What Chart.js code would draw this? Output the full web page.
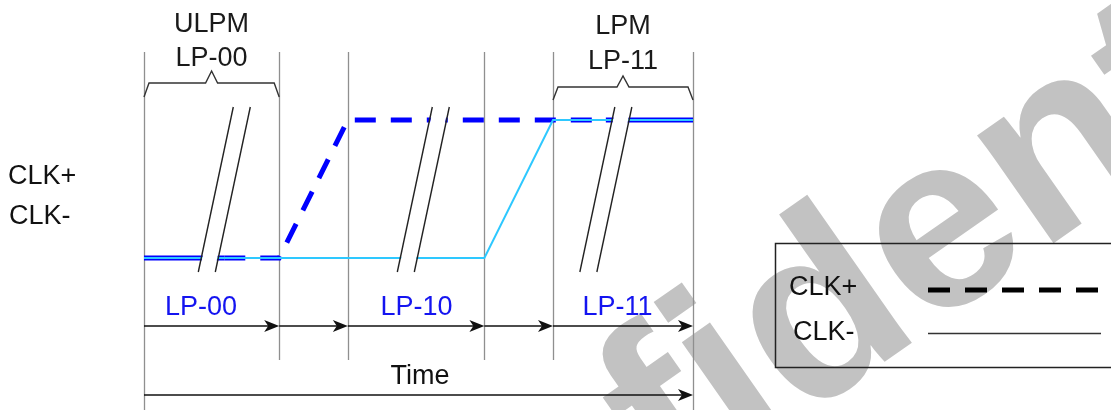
<!DOCTYPE html>
<html><head><meta charset="utf-8">
<script src="https://cdn.jsdelivr.net/npm/chart.js@4/dist/chart.umd.min.js"></script>
<style>html,body{margin:0;padding:0;background:#fff;} canvas{display:block;}</style>
</head><body>
<canvas id="c" width="1111" height="410"></canvas>
<script>
// ---- data (time in arbitrary units, level 0 = low, 1 = high) ----
const phaseBoundaries = [0, 1.97, 2.97, 4.96, 5.96, 8];
const breakTimes = [1.17, 4.07, 6.73];
const clkPlusTimes = [0, 1.17, 1.97, 2.97, 6.73, 8];
const clkPlusLevels = [0, 0, 0, 1, 1, 1];
const clkMinusTimes = [0, 4.96, 5.96, 8];
const clkMinusLevels = [0, 0, 1, 1];
const stateLabels = ['LP-00', 'LP-10', 'LP-11'];
const stateLabelTimes = [0.83, 3.97, 6.9];
const modeLabels = [['ULPM', 'LP-00'], ['LPM', 'LP-11']];
const modePhases = [0, 4];
const seriesNames = ['CLK+', 'CLK-'];
const axisTitle = 'Time';
const watermarkText = 'Confidential';

const FONT = '27px "Liberation Sans", Arial, sans-serif';
const BLUE = '#0000ff';
const CYAN = '#2ec8ff';

function pts(xs, ys) { return xs.map((x, i) => ({ x: x, y: ys[i] })); }

const bgPlugin = {
  id: 'bg',
  beforeDraw(chart) {
    const ctx = chart.ctx;
    ctx.save();
    ctx.fillStyle = '#fff';
    ctx.fillRect(0, 0, chart.width, chart.height);
    // watermark
    ctx.translate(277, 787);
    ctx.rotate(-35 * Math.PI / 180);
    ctx.font = 'bold 250px "Liberation Sans", Arial, sans-serif';
    ctx.fillStyle = '#c2c2c2';
    ctx.textBaseline = 'alphabetic';
    ctx.fillText(watermarkText, 0, 0);
    ctx.restore();
  },
  beforeDatasetsDraw(chart) {
    const ctx = chart.ctx, xs = chart.scales.x;
    ctx.save();
    ctx.strokeStyle = '#8f8f8f';
    ctx.lineWidth = 1.3;
    phaseBoundaries.forEach((t, i) => {
      const x = Math.round(xs.getPixelForValue(t)) + 0.5;
      const bottom = (i === 0 || i === phaseBoundaries.length - 1) ? 410 : 360;
      ctx.beginPath(); ctx.moveTo(x, 52); ctx.lineTo(x, bottom); ctx.stroke();
    });
    ctx.restore();
  },
  afterDatasetsDraw(chart) {
    const ctx = chart.ctx, xs = chart.scales.x;
    const X = t => xs.getPixelForValue(t);
    ctx.save();
    // break marks
    const yTop = 107, yBot = 272, yMid = (yTop + yBot) / 2, slope = 35 / 165, off = 8.5;
    breakTimes.forEach(t => {
      const xc = X(t);
      const xAt = (y, d) => xc + d + (yMid - y) * slope;
      ctx.fillStyle = '#fff';
      ctx.beginPath();
      ctx.moveTo(xAt(yTop, -off + 1), yTop);
      ctx.lineTo(xAt(yTop, off - 1), yTop);
      ctx.lineTo(xAt(yBot, off - 1), yBot);
      ctx.lineTo(xAt(yBot, -off + 1), yBot);
      ctx.closePath(); ctx.fill();
      ctx.strokeStyle = '#222';
      ctx.lineWidth = 1.4;
      [-off, off].forEach(d => {
        ctx.beginPath(); ctx.moveTo(xAt(yTop, d), yTop); ctx.lineTo(xAt(yBot, d), yBot); ctx.stroke();
      });
    });
    // braces
    ctx.strokeStyle = '#333'; ctx.lineWidth = 1.4;
    const brace = (x0, x1, y, ytip, yend) => {
      const xc = (x0 + x1) / 2;
      ctx.beginPath();
      ctx.moveTo(x0, yend); ctx.lineTo(x0 + 5, y); ctx.lineTo(xc - 6, y); ctx.lineTo(xc, ytip);
      ctx.lineTo(xc + 6, y); ctx.lineTo(x1 - 5, y); ctx.lineTo(x1, yend);
      ctx.stroke();
    };
    const braceY = [[83, 71, 97], [87, 76, 100]];
    modePhases.forEach((p, i) => {
      brace(X(phaseBoundaries[p]), X(phaseBoundaries[p + 1]), braceY[i][0], braceY[i][1], braceY[i][2]);
    });
    // mode labels
    ctx.font = FONT; ctx.fillStyle = '#1a1a1a'; ctx.textAlign = 'center'; ctx.textBaseline = 'middle';
    const modeY = [[25, 59], [27, 62]];
    modePhases.forEach((p, i) => {
      const xc = (X(phaseBoundaries[p]) + X(phaseBoundaries[p + 1])) / 2;
      ctx.fillText(modeLabels[i][0], xc, modeY[i][0]);
      ctx.fillText(modeLabels[i][1], xc, modeY[i][1]);
    });
    // state labels
    ctx.fillStyle = '#1414f0';
    stateLabels.forEach((s, i) => ctx.fillText(s, X(stateLabelTimes[i]), 308));
    // arrows
    const arrow = (x0, x1, y) => {
      ctx.strokeStyle = '#111'; ctx.fillStyle = '#111'; ctx.lineWidth = 1.5;
      ctx.beginPath(); ctx.moveTo(x0, y); ctx.lineTo(x1 - 8, y); ctx.stroke();
      ctx.beginPath(); ctx.moveTo(x1, y); ctx.lineTo(x1 - 15, y - 6); ctx.lineTo(x1 - 11, y); ctx.lineTo(x1 - 15, y + 6); ctx.closePath(); ctx.fill();
    };
    for (let i = 0; i < phaseBoundaries.length - 1; i++) arrow(X(phaseBoundaries[i]), X(phaseBoundaries[i + 1]), 326);
    arrow(X(phaseBoundaries[0]), X(phaseBoundaries[phaseBoundaries.length - 1]), 395);
    ctx.fillStyle = '#111';
    ctx.fillText(axisTitle, 420, 377);
    // left signal names
    ctx.textAlign = 'left';
    ctx.fillText(seriesNames[0], 8, 177);
    ctx.fillText(seriesNames[1], 9, 217);
    // legend box
    ctx.strokeStyle = '#222'; ctx.lineWidth = 1.5;
    ctx.strokeRect(775.5, 243.5, 400, 124);
    ctx.fillText(chart.data.datasets[1].label, 789, 288);
    ctx.fillText(chart.data.datasets[0].label, 793, 333);
    ctx.strokeStyle = '#000'; ctx.lineWidth = 5; ctx.setLineDash([22, 15]);
    ctx.beginPath(); ctx.moveTo(928, 290); ctx.lineTo(1100, 290); ctx.stroke();
    ctx.setLineDash([]); ctx.lineWidth = 1.3; ctx.strokeStyle = '#333';
    ctx.beginPath(); ctx.moveTo(928, 333.5); ctx.lineTo(1101, 333.5); ctx.stroke();
    ctx.restore();
  }
};

new Chart(document.getElementById('c'), {
  type: 'line',
  data: {
    datasets: [
      {
        label: seriesNames[1],
        data: pts(clkMinusTimes, clkMinusLevels),
        borderColor: CYAN, borderWidth: 2, pointRadius: 0, order: 0, clip: false, tension: 0
      },
      {
        label: seriesNames[0],
        data: pts(clkPlusTimes, clkPlusLevels),
        borderColor: BLUE, borderWidth: 5, pointRadius: 0, order: 1, clip: false, tension: 0,
        borderCapStyle: 'butt',
        segment: {
          borderDash: c => (c.p0DataIndex === 0 || c.p0DataIndex === clkPlusTimes.length - 2) ? [] : [21, 15]
        }
      }
    ]
  },
  options: {
    responsive: false,
    devicePixelRatio: 1,
    animation: false,
    events: [],
    layout: { padding: { left: 144, right: 418, top: 120, bottom: 152 } },
    plugins: { legend: { display: false }, tooltip: { enabled: false } },
    scales: {
      x: { type: 'linear', min: 0, max: 8, display: false },
      y: { type: 'linear', min: 0, max: 1, display: false }
    }
  },
  plugins: [bgPlugin]
});
</script>
</body></html>
